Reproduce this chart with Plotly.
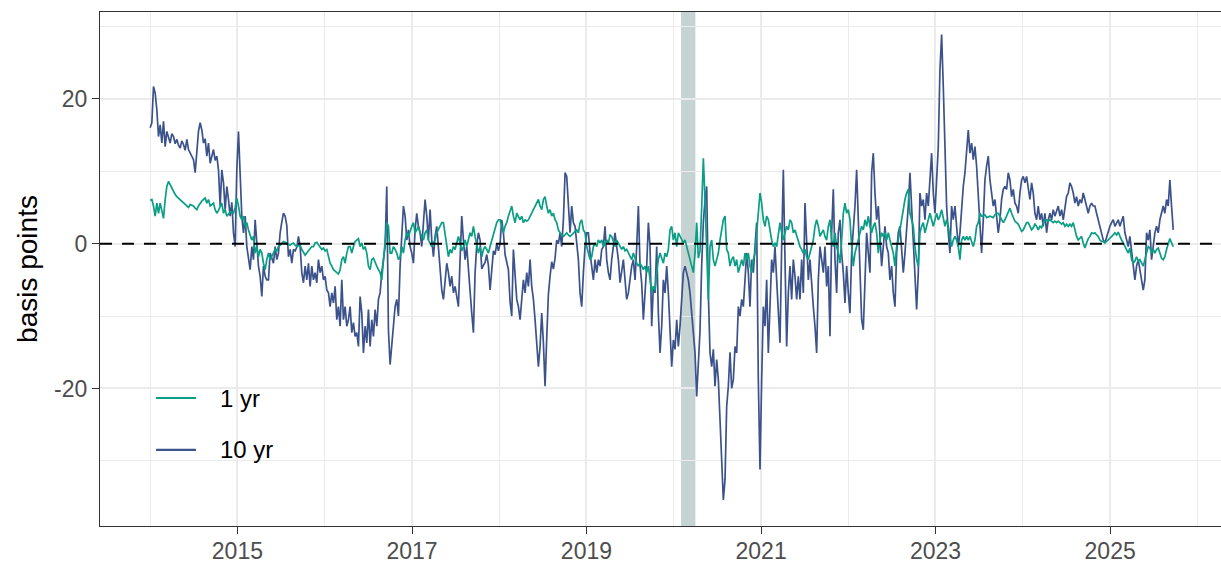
import pandas as pd
import plotly.graph_objects as go

# ---------------- data ----------------
series_start = "2014-01-01"
series_end = "2025-09-22"

ten_yr = [
    # 2014 - mid 2015
    16.0, 16.7, 21.7, 20.8, 18.5, 14.8, 16.4, 13.9, 16.9, 13.4,
    15.5, 14.5, 13.9, 15.2, 14.8, 13.8, 14.4, 13.6, 13.2, 14.2,
    13.7, 12.9, 14.4, 13.0, 12.5, 12.0, 11.6, 9.8, 13.4, 15.5,
    16.7, 15.7, 13.9, 14.5, 12.1, 13.9, 11.1, 12.0, 13.0, 11.5,
    12.1, 10.2, 5.2, 10.2, 8.4, 4.7, 7.9, 6.1, 3.8, 5.7,
    1.5, -0.4, 10.2, 15.5, 9.3, 3.8, 1.5, 3.8, -0.4, -1.8,
    -3.6, -0.4, -2.2, 3.3, -0.4, -3.1, -4.5, -7.3, -3.1, -4.5,
    -5.0, -5.0, -1.3, -2.2, -2.7, -0.4, -2.2, -1.3,
    # mid 2015 - 2017
    1.5, 3.0, 4.2, 3.8, 2.5, -1.8, -0.8, -2.7, -0.8, -1.0,
    -0.5, 1.0, -0.4, -4.0, -5.4, -3.1, -5.0, -2.7, -5.9, -3.1,
    -5.0, -4.0, -5.4, -2.2, -4.0, -3.1, -5.0, -4.5, -6.4, -6.8,
    -8.7, -6.8, -8.2, -5.9, -10.5, -8.7, -11.4, -5.0, -10.5, -8.7,
    -11.4, -10.5, -8.7, -12.3, -10.9, -12.8, -12.3, -14.2, -7.3, -9.6,
    -15.1, -11.4, -13.7, -9.1, -14.2, -10.5, -12.8, -9.1, -11.4, -7.7,
    -6.8, -4.0, -2.2, -0.4, 7.9, -12.0, -16.7, -14.2, -11.4, -8.7,
    -7.7, -10.0, -3.1, 1.5, 5.2, 3.8, 0.5, 1.9, -0.4, -1.3,
    -2.7, 1.9, 4.2, 2.4,
    # 2017 - late 2018
    1.5, -0.4, 2.9, 6.1, 3.8, 0.5, 4.7, 0.5, -1.8, 1.0,
    2.4, -0.4, -4.0, -6.4, -7.7, -5.0, -2.7, -4.0, -5.9, -4.5,
    -6.8, -5.9, -7.7, -8.7, -2.2, 3.8, 0.5, -2.2, -0.4, -4.0,
    -6.8, -9.6, -12.3, -4.0, -0.2, 1.5, 0.5, -3.5, -3.0, -2.6,
    -1.5, -3.0, -6.4, -4.0, -1.0, -1.5, 0.0, -1.0, 0.0, 3.3,
    1.5, -1.5, -2.8, -3.6, -8.0, -10.0, -0.8, -4.0, -7.7, -8.7,
    -10.5, -7.7, -5.0, -6.8, -4.0, -5.9, -2.2, -5.9, -7.7, -10.5,
    -14.2, -17.0, -14.2, -9.6, -13.7, -19.7, -13.0, -7.0, -4.5, -2.5,
    -3.5, -2.0, 0.5, 0.0,
    # late 2018 - 2020
    1.5, -0.4, 3.3, 9.8, 9.3, 4.7, 1.5, 5.2, 2.9, 2.4,
    0.5, -2.2, -6.8, -8.7, -4.0, -0.4, 1.5, 1.5, -1.3, -3.1,
    -5.0, -2.2, -4.0, -2.2, -3.1, -0.8, -0.4, 2.4, -2.2, -4.0,
    -5.0, -2.2, -0.4, 1.5, -0.4, -2.2, -5.4, -4.0, -2.2, -5.0,
    -7.7, -6.8, -5.0, -3.1, -2.2, -5.0, -0.4, 5.2, -3.0, -5.5,
    -10.5, -6.8, -3.1, 2.9, -0.4, -11.4, -5.9, -6.8, -0.4, -9.6,
    -15.1, -11.4, -5.0, -6.8, -3.1, -6.8, -13.3, -17.0, -13.3, -14.6,
    -10.5, -14.2, -11.4, -6.8, -4.0, -3.1, -4.0, -5.0, -6.8, -9.6,
    -12.3, -15.1, -21.1, -17.0,
    # 2020 - late 2021
    -12.0, -3.0, 3.0, 6.0, 7.9, -6.8, -15.1, -17.0, -14.6, -19.7,
    -16.0, -18.8, -25.2, -29.8, -35.4, -32.6, -22.5, -19.7, -15.0, -20.0,
    -18.8, -14.2, -15.1, -8.7, -10.0, -7.7, -8.7, -5.0, -1.3, -4.0,
    -8.7, -2.2, -4.0, -0.4, 2.9, -18.8, -31.2, -18.8, -8.7, -11.4,
    -5.0, -15.1, -6.8, -2.2, -4.0, -0.4, -5.0, -10.5, -13.7, -0.4,
    10.2, -2.2, -14.2, -6.8, -3.1, -7.7, -2.2, -4.5, -7.7, -4.5,
    -7.7, -2.2, -6.8, 5.6, -0.4, -5.0, -2.2, -5.9, -8.7, -11.4,
    -15.1, -5.0, -0.4, -2.2, -4.0, -0.4, -5.9, -3.1, -12.8, 1.5,
    7.5, -2.2, -6.8, 1.5,
    # late 2021 - mid 2023
    3.3, -1.3, -4.0, -8.2, -3.1, -6.8, -9.6, -1.3, 1.5, 5.2,
    10.2, 2.4, -5.9, -10.5, -11.9, -4.0, 1.5, -1.3, -4.0, 9.8,
    12.5, 7.0, 3.3, 5.2, 1.5, -3.1, -0.4, 2.4, -0.4, -1.3,
    -5.0, -3.1, -6.8, -8.7, -1.3, 1.5, 2.4, -0.4, -4.0, -1.3,
    1.5, 5.2, 9.8, 5.2, 1.5, -4.0, -9.1, -4.0, 7.0, 5.2,
    6.1, 3.3, 7.0, 5.2, 9.8, 12.5, 7.0, 4.2, 8.8, 13.4,
    24.0, 28.9, 21.7, 13.4, 5.2, 1.5, -1.3, 5.2, 3.3, 5.2,
    2.4, -0.4, 1.5, 5.2, 7.9, 9.8, 12.5, 15.7, 12.5, 13.9,
    11.6, 13.4, 10.7, 7.0,
    # mid 2023 - 2025
    2.0, -1.3, 3.3, 8.8, 10.7, 12.1, 8.8, 7.0, 5.2, 6.1,
    3.3, 1.5, 3.3, 6.1, 7.5, 7.9, 7.5, 9.8, 8.8, 6.5,
    7.5, 5.6, 5.2, 4.2, 7.0, 8.8, 9.3, 8.4, 9.3, 7.5,
    6.1, 8.4, 7.0, 4.2, 3.3, 5.2, 3.3, 4.2, 2.4, 4.2,
    1.5, 3.3, 4.2, 3.3, 4.7, 3.8, 4.7, 5.2, 3.8, 4.7,
    3.3, 4.7, 6.5, 7.0, 8.4, 7.9, 7.0, 5.6, 6.5, 5.2,
    6.1, 5.6, 7.0, 6.1, 5.2, 4.2, 5.2, 5.6, 5.2, 5.2,
    4.2, 3.3, 2.4, 1.5, 0.5, 0.1, 1.0, 1.9, 2.4, 2.9,
    3.3, 2.4, 2.9, 3.3, 2.4, 3.3, 3.8, 1.5, 0.5, -0.4,
    1.0, -0.8, -3.1, -5.0, -3.1, -2.2, -3.6, -5.0, -6.4, -5.0,
    1.5, 0.5, 1.9, -2.2, -0.4, 1.5, 2.4, 1.5, 3.3, 4.2,
    5.2, 4.2, 6.1, 5.2, 8.8, 5.2, 1.9,
]

one_yr = [
    # 2014 - mid 2015
    6.0, 6.1, 5.2, 3.8, 5.6, 4.2, 5.6, 4.7, 3.5, 6.1,
    7.9, 8.6, 8.1, 7.7, 7.2, 6.8, 6.5, 6.3, 6.1, 5.8,
    5.6, 5.4, 5.2, 5.0, 5.4, 5.3, 5.2, 4.9, 4.7, 5.2,
    5.6, 5.9, 6.1, 6.3, 5.6, 6.1, 5.2, 5.4, 5.6, 4.7,
    4.2, 4.6, 5.2, 5.6, 4.2, 4.7, 3.8, 4.1, 4.4, 4.3,
    4.2, 5.0, 6.3, 5.2, 3.8, 3.3, 3.8, 2.4, 2.9, 1.9,
    1.0, 0.5, 1.0, -1.3, -0.4, -1.8, -0.8, -1.3, -2.7, -3.6,
    -2.2, -1.3, -2.2, -1.8, -1.3, -0.8, -1.0, -0.4,
    # mid 2015 - 2017
    -0.2, 0.1, 0.3, 0.2, 0.1, 0.0, -0.2, 0.0, 0.1, -0.2,
    -0.4, -0.3, -0.2, -0.8, -1.3, -1.6, -1.3, -1.0, -0.8, -0.4,
    -0.4, 0.1, 0.2, -0.2, -0.6, -0.8, -0.6, -1.0, -0.8, -1.8,
    -2.7, -3.1, -3.6, -3.8, -4.0, -4.2, -3.6, -2.2, -1.8, -2.7,
    -1.3, -0.4, -0.4, -1.3, -0.4, 0.3, 0.5, 0.7, -0.4, 0.1,
    -0.8, -0.4, -1.3, -3.1, -3.6, -2.2, -2.0, -2.7, -3.1, -3.6,
    -4.0, -5.0, -2.7, -0.4, 2.9, 2.4, -1.3, -1.3, -0.4, -0.8,
    -1.3, -2.2, -1.8, -0.4, -1.3, 0.5, 1.5, 1.0, 1.9, 2.4,
    2.9, 1.5, 1.9, 2.4,
    # 2017 - late 2018
    1.5, 1.0, 0.5, 1.5, 1.9, 0.5, 0.1, -0.4, 0.1, 0.5,
    1.5, 1.9, 2.4, 2.9, 2.9, 1.5, -0.4, -1.8, -0.8, -1.3,
    -0.4, -0.8, 0.1, 1.0, 0.1, -1.0, -0.4, 0.5, -0.4, 0.5,
    1.5, 1.0, 2.4, 1.0, -0.4, -1.3, -0.4, -1.8, -0.8, -0.4,
    -0.8, -1.3, -0.4, 0.5, 1.5, 2.4, 2.9, 3.3, 3.3, 2.4,
    1.5, 2.4, 2.9, 3.8, 4.7, 5.2, 3.8, 2.9, 4.2, 3.8,
    3.3, 3.8, 2.9, 3.3, 3.1, 3.3, 3.8, 4.2, 4.7, 5.2,
    5.6, 6.1, 5.2, 4.7, 6.1, 6.5, 5.2, 4.2, 4.7, 3.8,
    4.2, 3.3, 2.9, 1.9,
    # late 2018 - 2020
    1.5, 1.2, 1.0, 1.2, 1.5, 1.2, 1.0, 1.2, 1.5, 1.7,
    1.9, 1.5, 2.9, 3.3, 1.9, 1.5, -0.4, -1.3, -2.2, -1.8,
    -0.4, 0.1, -0.4, 0.5, 0.1, 0.5, -0.4, 0.1, 0.5, 0.1,
    1.2, 1.0, 0.3, -0.4, 0.5, 0.1, -0.4, -0.8, -0.4, -1.0,
    -0.8, -1.3, -1.8, -2.2, -1.3, -2.2, -2.7, -3.1, -2.7, -3.1,
    -3.6, -3.1, -4.0, -3.1, -5.0, -6.8, -5.9, -6.4, -4.0, -2.2,
    -1.3, -2.2, -2.7, -1.3, -1.8, -0.8, 1.9, 2.4, 0.5, 1.5,
    -0.4, 1.5, 1.0, 0.5, 0.1, 0.5, -0.4, -1.3, -2.2, -3.1,
    -4.0, -1.3, 2.9, -2.0,
    # 2020 - late 2021
    -1.0, 5.0, 11.8, 6.0, -2.0, -7.7, -0.4, 0.5, -2.2, -3.1,
    -2.2, -1.3, 0.5, 1.9, 3.3, 3.8, -0.8, -1.3, -3.1, -2.2,
    -1.8, -3.1, -2.2, -4.0, -3.1, -2.2, -3.1, -1.3, -2.2, -1.3,
    -3.1, -4.0, -2.2, -1.3, 1.5, 4.2, 7.0, 5.6, 3.3, 2.4,
    3.8, 3.3, 1.5, 0.5, -0.4, 0.1, -0.4, 1.5, 2.9, 1.5,
    0.5, 1.5, 2.4, 1.9, 3.3, 2.9, 1.5, 1.9, 1.0, 0.5,
    -0.4, -0.8, -1.3, -0.8, -1.8, -2.2, -1.3, -0.4, 0.5, 2.4,
    3.3, 2.4, 1.0, 1.5, 1.9, 1.0, 0.5, 2.4, 3.3, 0.5,
    -0.4, 1.5, -0.4, -1.3,
    # late 2021 - mid 2023
    -2.7, 0.5, 4.2, 5.6, 4.2, 4.7, 3.3, -0.4, -3.1, -1.3,
    -0.4, 0.5, 1.5, 2.4, 1.9, 3.3, 2.4, 3.8, 2.4, 1.5,
    2.4, 2.9, 1.5, -1.3, 0.5, 1.5, 1.0, 1.5, 0.5, 1.5,
    0.5, -0.4, -1.3, -3.1, -0.4, 0.5, 1.9, 3.3, 5.2, 6.1,
    7.0, 7.5, 4.2, 3.3, 2.4, -0.4, -2.2, -3.1, 1.5, 2.4,
    2.9, 1.5, 2.4, 3.3, 4.2, 3.3, 2.4, 3.3, 4.2, 3.3,
    3.8, 4.7, 3.3, 2.4, 3.3, 2.4, 1.0, -0.4, 0.5, 1.0,
    0.5, -0.4, -2.2, 0.5, 1.0, 0.5, 1.0, 0.5, 1.0, 0.1,
    -0.4, 0.5, 2.4, 2.9,
    # mid 2023 - 2025
    4.2, 3.8, 3.8, 4.0, 3.6, 3.7, 3.8, 3.7, 3.6, 4.0,
    4.2, 4.2, 3.8, 3.3, 2.9, 3.3, 3.8, 4.2, 4.9, 4.2,
    3.6, 3.1, 2.9, 2.7, 2.2, 1.7, 1.9, 2.4, 2.9, 2.9,
    2.4, 1.9, 2.2, 2.7, 2.4, 1.9, 2.4, 2.2, 2.9, 3.3,
    3.3, 3.1, 3.3, 3.1, 2.9, 3.1, 2.9, 3.1, 2.9, 2.7,
    2.9, 2.4, 2.7, 2.4, 2.7, 2.4, 2.9, 1.9, 1.0, 0.5,
    0.7, 1.0, 0.1, -0.6, 0.1, 0.7, 1.0, 1.5, 1.4, 1.5,
    1.2, 1.0, 0.5, 0.3, 0.3, 0.1, 0.3, 0.5, 0.7, 1.0,
    1.2, 1.5, 1.2, 1.6, 1.0, 0.5, 0.1, -0.4, -0.8, -1.3,
    -0.6, -2.2, -2.7, -2.4, -1.8, -2.4, -2.2, -2.7, -3.1, -2.2,
    -1.3, -0.4, -0.6, -1.3, -0.8, -1.3, -0.8, -0.6, -1.3, -2.0,
    -2.2, -1.8, -0.8, 0.1, 0.7, 0.1, -0.4,
]

series_names = ["1 yr", "10 yr"]
series_colors = ["#0A9E84", "#3B528B"]

recession_start = "2020-02-01"
recession_end = "2020-04-01"

year_major = [2015, 2017, 2019, 2021, 2023, 2025]
year_minor = [2014, 2016, 2018, 2020, 2022, 2024, 2026]
y_major = [-20, 0, 20]
y_major_labels = ["-20", "0", "20"]
y_minor = [-30, -10, 10, 30]

x_range = ["2013-06-05", "2026-04-10"]
y_range = [-39.0, 32.0]

# ---------------- figure ----------------
dates = pd.date_range(series_start, series_end, periods=len(ten_yr))
dates_1 = pd.date_range(series_start, series_end, periods=len(one_yr))

fig = go.Figure()
fig.add_trace(go.Scatter(x=dates, y=ten_yr, mode="lines", name=series_names[1],
                         line=dict(color=series_colors[1], width=1.7), showlegend=False))
fig.add_trace(go.Scatter(x=dates_1, y=one_yr, mode="lines", name=series_names[0],
                         line=dict(color=series_colors[0], width=1.7), showlegend=False))

grid = "#EBEBEB"
axis_col = "#333333"
FONT = "Liberation Sans, Arial, sans-serif"
tick_font = dict(family=FONT, size=23, color="#4D4D4D")

shapes = [
    # recession band
    dict(type="rect", xref="x", yref="paper", x0=recession_start, x1=recession_end,
         y0=0, y1=1, fillcolor="#C5D3D3", line=dict(width=0), layer="between"),
    # zero reference line
    dict(type="line", xref="paper", yref="y", x0=0, x1=1, y0=0, y1=0,
         line=dict(color="black", width=2, dash="12px,10px"), layer="above"),
    # legend background
    dict(type="rect", xref="paper", yref="paper", x0=0.0312, x1=0.1686, y0=0.070, y1=0.331,
         fillcolor="white", line=dict(width=0), layer="between"),
]
legend_y = [0.249, 0.148]
annotations = []
for name, col, ly in zip(series_names, series_colors, legend_y):
    shapes.append(dict(type="line", xref="paper", yref="paper", x0=0.050, x1=0.0856,
                       y0=ly, y1=ly, line=dict(color=col, width=2.2), layer="above"))
    annotations.append(dict(xref="paper", yref="paper", x=0.1053, y=ly, text=name,
                            showarrow=False, xanchor="left", yanchor="middle",
                            font=dict(family=FONT, size=24, color="black")))

fig.update_layout(
    width=1221, height=564,
    margin=dict(l=100, r=0, t=12, b=38, autoexpand=False),
    plot_bgcolor="white", paper_bgcolor="white",
    font=dict(family=FONT),
    shapes=shapes, annotations=annotations,
    showlegend=False,
    xaxis=dict(
        type="date", range=x_range, automargin=False,
        tickmode="array",
        tickvals=[f"{y}-01-01" for y in year_major],
        ticktext=[str(y) for y in year_major],
        showgrid=True, gridcolor=grid, gridwidth=1.6,
        minor=dict(tickvals=[f"{y}-01-01" for y in year_minor], showgrid=True,
                   gridcolor=grid, gridwidth=0.9),
        showline=True, linecolor=axis_col, linewidth=1.2, mirror=True,
        ticks="outside", ticklen=7, tickwidth=1.3, tickcolor=axis_col,
        tickfont=tick_font, zeroline=False, ticklabelstandoff=-3,
    ),
    yaxis=dict(
        range=y_range, automargin=False,
        tickmode="array", tickvals=y_major, ticktext=y_major_labels,
        showgrid=True, gridcolor=grid, gridwidth=1.6,
        minor=dict(tickvals=y_minor, showgrid=True, gridcolor=grid, gridwidth=0.9),
        showline=True, linecolor=axis_col, linewidth=1.2,
        ticks="outside", ticklen=7, tickwidth=1.3, tickcolor=axis_col,
        tickfont=tick_font, zeroline=False,
        title=dict(text="basis points", standoff=8,
                   font=dict(family=FONT, size=28, color="black")),
    ),
)

fig.write_html("out.html",
               config={"displayModeBar": False},
               post_script="document.body.style.margin='0';document.body.style.overflow='hidden';")
